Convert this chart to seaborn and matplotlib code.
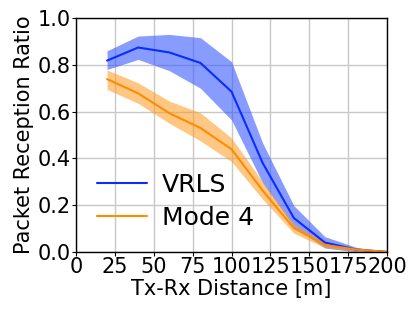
import numpy as np
import pandas as pd
import matplotlib
matplotlib.use("Agg")
import matplotlib.pyplot as plt
import seaborn as sns

# values
distance = [20, 40, 60, 80, 100, 120, 140, 160, 180, 200]

vrls_mean = [0.818, 0.874, 0.853, 0.808, 0.685, 0.38, 0.145, 0.04, 0.01, 0.0]
vrls_low = [0.78, 0.823, 0.775, 0.70, 0.564, 0.295, 0.107, 0.017, 0.0, 0.0]
vrls_high = [0.86, 0.923, 0.93, 0.916, 0.813, 0.465, 0.198, 0.065, 0.02, 0.0]

mode4_mean = [0.739, 0.678, 0.593, 0.53, 0.439, 0.262, 0.102, 0.03, 0.01, 0.0]
mode4_low = [0.695, 0.635, 0.55, 0.475, 0.386, 0.225, 0.08, 0.018, 0.003, 0.0]
mode4_high = [0.778, 0.723, 0.645, 0.595, 0.487, 0.30, 0.12, 0.04, 0.015, 0.0]

df = pd.DataFrame({
    "Distance": distance * 2,
    "PRR": vrls_mean + mode4_mean,
    "Scheme": ["VRLS"] * len(distance) + ["Mode 4"] * len(distance),
})

sns.set_style("ticks")
plt.rcParams["font.family"] = ["DejaVu Sans"]
plt.rcParams["text.color"] = "black"
plt.rcParams["axes.labelcolor"] = "black"
plt.rcParams["xtick.color"] = "black"
plt.rcParams["ytick.color"] = "black"

fig = plt.figure(figsize=(4.15, 3.11), dpi=100)
ax = fig.add_axes([0.183, 0.19, 0.75, 0.752])

blue = "#0a2cff"
orange = "#ff8c00"

ax.fill_between(distance, vrls_low, vrls_high, color="#3355ff", alpha=0.58, linewidth=0)
ax.fill_between(distance, mode4_low, mode4_high, color="#ff9a1f", alpha=0.55, linewidth=0)

sns.lineplot(data=df, x="Distance", y="PRR", hue="Scheme",
             palette={"VRLS": blue, "Mode 4": orange}, linewidth=1.5, ax=ax)

ax.set_xlim(0, 200)
ax.set_ylim(0, 1.0)
ax.set_xticks(np.arange(0, 201, 25))
ax.set_yticks(np.arange(0, 1.01, 0.2))
ax.set_yticklabels([f"{v:.1f}" for v in np.arange(0, 1.01, 0.2)])
ax.grid(True, color="#c8c8c8", linewidth=1.0)
ax.tick_params(labelsize=15, length=3, pad=1)
for s in ax.spines.values():
    s.set_color("black")
    s.set_linewidth(1.0)

ax.set_xlabel("Tx-Rx Distance [m]", fontsize=15, labelpad=1)
ax.set_ylabel("Packet Reception Ratio", fontsize=15, labelpad=2)

ax.legend(loc="lower left", bbox_to_anchor=(0.02, 0.03), frameon=False,
          fontsize=18, handlelength=2.0, handletextpad=0.6, borderaxespad=0.2,
          labelspacing=0.35)

fig.savefig("out.png", dpi=100)
